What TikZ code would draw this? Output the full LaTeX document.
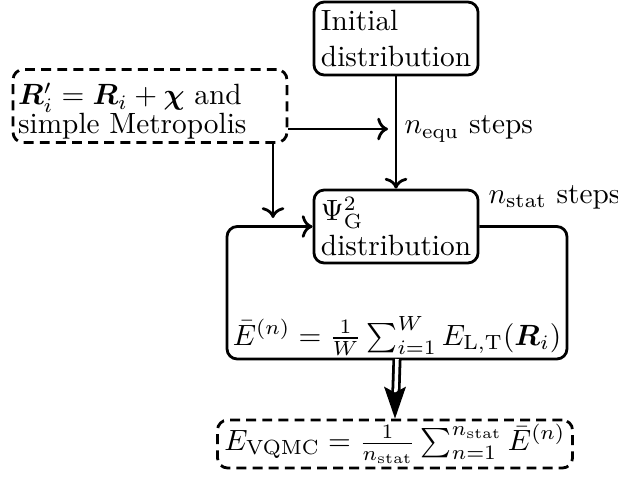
\documentclass[tikz,border=0pt]{standalone}
\usepackage{amsmath,bm}
\usetikzlibrary{arrows.meta,calc}
\begin{document}
\begin{tikzpicture}[x=0.3413pt,y=-0.3413pt,
  box/.style={draw, line width=0.95pt, rounded corners=3.5pt, align=left, inner xsep=2.4pt, inner ysep=0pt},
  dbox/.style={box, dash pattern=on 3.4pt off 2.1pt},
  conn/.style={line width=0.95pt, ->},
  txt/.style={inner sep=0pt}]
\useasboundingbox (0,0) rectangle (618,476);
\node[box, minimum width=56pt, minimum height=24.9pt] (init) at (396,38.5) {Initial\\distribution};
\node[box, minimum width=56pt, minimum height=24.9pt] (psi) at (396,226.5) {$\Psi_{\mathrm{G}}^2$\\distribution};
\node[dbox, text width=90pt, inner xsep=1.75pt, inner ysep=1pt] (metro) at (150,106) {\rule{0pt}{11.1pt}$\bm{R}_i' = \bm{R}_i + \bm{\chi}$ and\\[-2.1pt]simple Metropolis};
\node[dbox, minimum width=116pt, minimum height=16.4pt] (vqmc) at (395,444) {$E_{\mathrm{VQMC}} = \frac{1}{n_{\mathrm{stat}}}\sum_{n=1}^{n_{\mathrm{stat}}}\bar{E}^{(n)}$};
\coordinate (equend) at (388,129);
\coordinate (metroend) at (273,218);
\coordinate (lbr) at (567,359);
\coordinate (lbl) at (227,359);
\coordinate (lbm) at (397,359);
\draw[conn] (init) -- (psi);
\draw[conn] (metro.east |- equend) -- (equend);
\node[txt, anchor=west] (nequ) at (404,129) {$n_{\mathrm{equ}}$ steps};
\draw[conn] (metro.south -| metroend) -- (metroend);
\draw[conn, rounded corners=3.5pt] (psi.east) -| (lbr) -- (lbl) |- (psi.west);
\node[anchor=south, inner sep=1pt] (ebar) at (lbm) {$\bar{E}^{(n)} = \frac{1}{W}\sum_{i=1}^{W} E_{\mathrm{L,T}}(\bm{R}_i)$};
\node[txt, anchor=base west] (nstat) at (488,203) {$n_{\mathrm{stat}}$ steps};
\draw[line width=0.95pt, double, double distance=1.2pt, shorten >=8.5pt] (lbm) -- (vqmc.north);
\fill (vqmc.north) -- ++(-11,-32) -- ++(11,6) -- ++(11,-6) -- cycle;
\end{tikzpicture}
\end{document}
